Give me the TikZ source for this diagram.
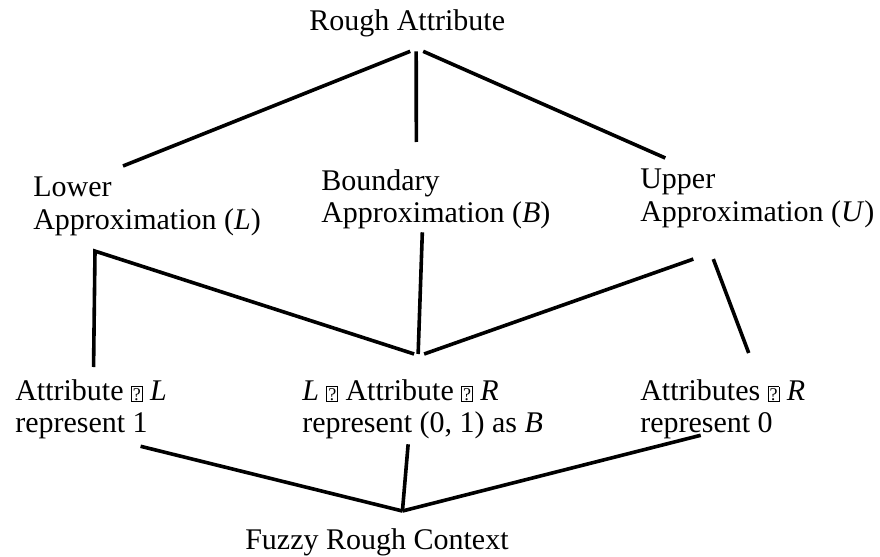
\documentclass[tikz,border=0pt]{standalone}
\usepackage{fontspec}
\setmainfont{Liberation Serif}
\usetikzlibrary{calc}
\newcommand{\qbox}{{\setlength{\fboxsep}{0.8pt}\setlength{\fboxrule}{0.55pt}\fbox{\fontsize{13.5}{13.5}\selectfont\rule{0pt}{8.8pt}?}}}

\begin{document}
\begin{tikzpicture}[x=0.75pt,y=0.75pt,yscale=-1,xscale=1,
  txt/.style={anchor=north west,inner sep=0.75pt,align=left,font=\fontsize{22.5}{24.4}\selectfont},
  conn/.style={line width=2.7pt}]
\useasboundingbox (0,0) rectangle (880,556);

\draw (308,8) node [txt] (rough) {Rough Attribute};

\draw (32,176) node [txt] (lower) {Lower\\Approximation (\textit{L})};
\draw (320,168) node [txt] (boundary) {Boundary\\Approximation (\textit{B})};
\draw (639,168) node [txt] (upper) {Upper\\Approximation (\textit{U})};

\draw (14,378) node [txt] (attrL) {Attribute \qbox\ \textit{L}\\represent 1};
\draw (301,378) node [txt] (mid) {\textit{L} \qbox\ Attribute \qbox\ \textit{R}\\represent (0, 1) as \textit{B}};
\draw (639,378) node [txt] (attrR) {Attributes \qbox\ \textit{R}\\represent 0};

\draw (244,527) node [txt] (fuzzy) {Fuzzy Rough Context};

\coordinate (jB) at ($(mid.north)+(-4.5,-24)$);
\coordinate (jF) at ($(fuzzy.north)+(25.5,-16)$);

\draw [conn] ($(rough.south)+(3,13.5)$) -- ($(lower.north)+(-24,-10)$);
\draw [conn] ($(rough.south)+(9,13.5)$) -- ($(boundary.north)+(-19.5,-26)$);
\draw [conn] ($(rough.south)+(16,13.5)$) -- ($(upper.north)+(-92,-10)$);

\draw [conn] ($(attrL.north)+(2.5,-11)$) -- ($(lower.south)+(-52,14)$) -- ($(jB)+(-4,0)$);
\draw [conn] ($(boundary.south)+(-13.5,2)$) -- (jB);
\draw [conn] ($(upper.south)+(-64,30)$) -- ($(jB)+(6,0)$);
\draw [conn] ($(upper.south)+(-44,30)$) -- ($(attrR.north)+(26,-25)$);

\draw [conn] ($(attrL.south)+(49.5,6)$) -- (jF);
\draw [conn] ($(mid.south)+(-14.5,4)$) -- (jF);
\draw [conn] ($(attrR.south)+(-22,-5)$) -- (jF);

\end{tikzpicture}
\end{document}
